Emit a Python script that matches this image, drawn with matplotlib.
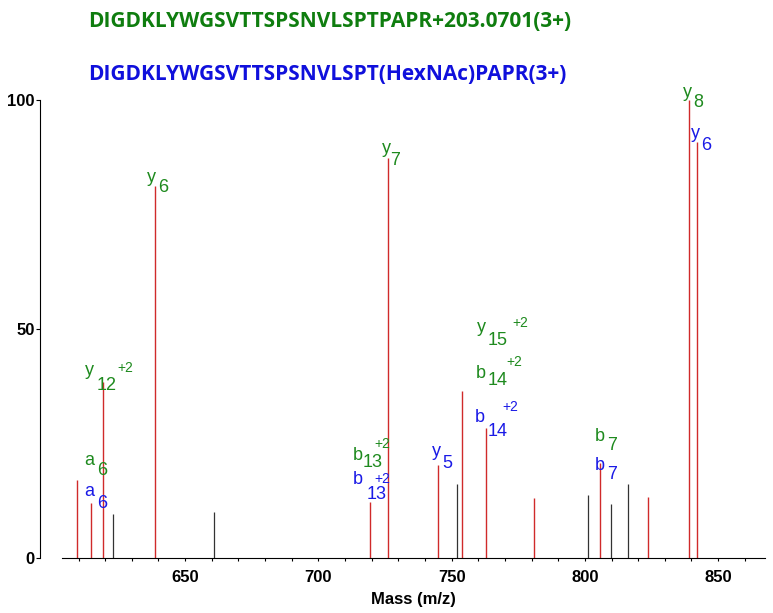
import matplotlib
matplotlib.use("Agg")
import matplotlib.pyplot as plt
from matplotlib.ticker import MultipleLocator

# peaks: m/z and relative intensity (%)
mz = [609.6, 614.7, 619.0, 623.1, 638.7, 660.9, 719.4, 726.0, 745.0, 752.1,
      754.0, 762.8, 780.9, 801.1, 805.8, 809.9, 816.3, 823.8, 838.9, 841.9]
intensity = [17.0, 11.9, 38.5, 9.6, 81.2, 10.1, 12.3, 87.3, 20.2, 16.1,
             36.5, 28.4, 13.1, 13.8, 20.7, 11.8, 16.2, 13.4, 100.0, 90.9]
# 1 = matched fragment (red), 0 = unmatched (black)
matched = [1, 1, 1, 0, 1, 0, 1, 1, 1, 0,
           1, 1, 1, 0, 1, 0, 0, 1, 1, 1]

peptide_green = "DIGDKLYWGSVTTSPSNVLSPTPAPR+203.0701(3+)"
peptide_blue = "DIGDKLYWGSVTTSPSNVLSPT(HexNAc)PAPR(3+)"

# fragment annotations: peak index, ion letter, ion number, charge, peptide
ion_peak = [4, 7, 18, 19, 2, 1, 1, 6, 6, 8, 10, 10, 11, 14, 14]
ion_type = ["y", "y", "y", "y", "y", "a", "a", "b", "b", "y", "y", "b", "b", "b", "b"]
ion_num = ["6", "7", "8", "6", "12", "6", "6", "13", "13", "5", "15", "14", "14", "7", "7"]
ion_charge = ["", "", "", "", "+2", "", "", "+2", "+2", "", "+2", "+2", "+2", "", ""]
ion_pep = ["g", "g", "g", "b", "g", "g", "b", "g", "b", "b", "g", "g", "b", "g", "b"]

# label layout, pixel offsets from the peak top: letter, subscript, superscript
label_pos = [
    ((-8, 4), (3, -6.3), None),
    ((-6, 5.6), (2.3, -6.7), None),
    ((-5.6, 2.6), (5, -7.4), None),
    ((-5.7, 4), (4.3, -8.3), None),
    ((-17.3, 6.3), (-5.6, -8.3), (14.4, 10)),
    ((-6.7, 38.9), (6, 28.3), None),
    ((-6.7, 7.3), (6, -5), None),
    ((-17.3, 41.7), (-7.3, 35), (4.3, 53.4)),
    ((-17.3, 17.4), (-3.3, 2.4), (4.3, 19)),
    ((-6.6, 9.7), (4, -2.6), None),
    ((15, 58.7), (25.6, 45.7), (50, 64)),
    ((13.3, 12.4), (25, 5.7), (44.3, 25)),
    ((-10.7, 6), (2, -8.4), (16.6, 16.6)),
    ((-6, 22.6), (6.4, 13.3), None),
    ((-6, -6.7), (6.4, -15.7), None),
]

GREEN = "#1e8a1e"
BLUE = "#1a1ae6"
RED = "#d02a2a"

plt.rcParams["font.family"] = ["Liberation Sans", "DejaVu Sans"]

fig = plt.figure(figsize=(7.73, 6.13), dpi=100)
ax = fig.add_axes([62 / 773, 1 - 558 / 613, (765 - 62) / 773, (558 - 100) / 613])

for m, h, ok in zip(mz, intensity, matched):
    ax.vlines(m, 0, h, color=RED if ok else "#333333", lw=1.0 if ok else 0.9)

def put(txt, m, h, off, size, color):
    ax.annotate(txt, xy=(m, h), xytext=off, textcoords="offset pixels",
                ha="left", va="baseline", fontsize=size, color=color,
                annotation_clip=False)

for i in range(len(ion_peak)):
    m = mz[ion_peak[i]]
    h = intensity[ion_peak[i]]
    col = GREEN if ion_pep[i] == "g" else BLUE
    p_main, p_sub, p_sup = label_pos[i]
    put(ion_type[i], m, h, p_main, 13, col)
    put(ion_num[i], m, h, p_sub, 13, col)
    if ion_charge[i]:
        put(ion_charge[i], m, h, p_sup, 10, col)

ax.set_xlim(603.8, 867.6)
ax.set_ylim(0, 100)
ax.spines["top"].set_visible(False)
ax.spines["right"].set_visible(False)
ax.spines["left"].set_position(("outward", 15.8))

ax.xaxis.set_major_locator(MultipleLocator(50))
ax.xaxis.set_minor_locator(MultipleLocator(10))
ax.set_yticks([0, 50, 100])
ax.tick_params(axis="x", which="both", direction="out", length=2.5, width=0.8, pad=6)
ax.tick_params(axis="y", direction="out", length=3, width=0.8, pad=1)
for lab in ax.get_xticklabels() + ax.get_yticklabels():
    lab.set_fontweight("bold")
    lab.set_fontsize(12)
ax.set_xlabel("Mass (m/z)", fontsize=12, fontweight="bold", labelpad=5)

fig.text(88 / 773, 1 - 27 / 613, peptide_green, color="#0f7d0f",
         fontsize=15, fontweight="bold", family="Open Sans", va="baseline")
fig.text(88 / 773, 1 - 80 / 613, peptide_blue, color="#1010dc",
         fontsize=15, fontweight="bold", family="Open Sans", va="baseline")

fig.savefig("out.png", dpi=100)
